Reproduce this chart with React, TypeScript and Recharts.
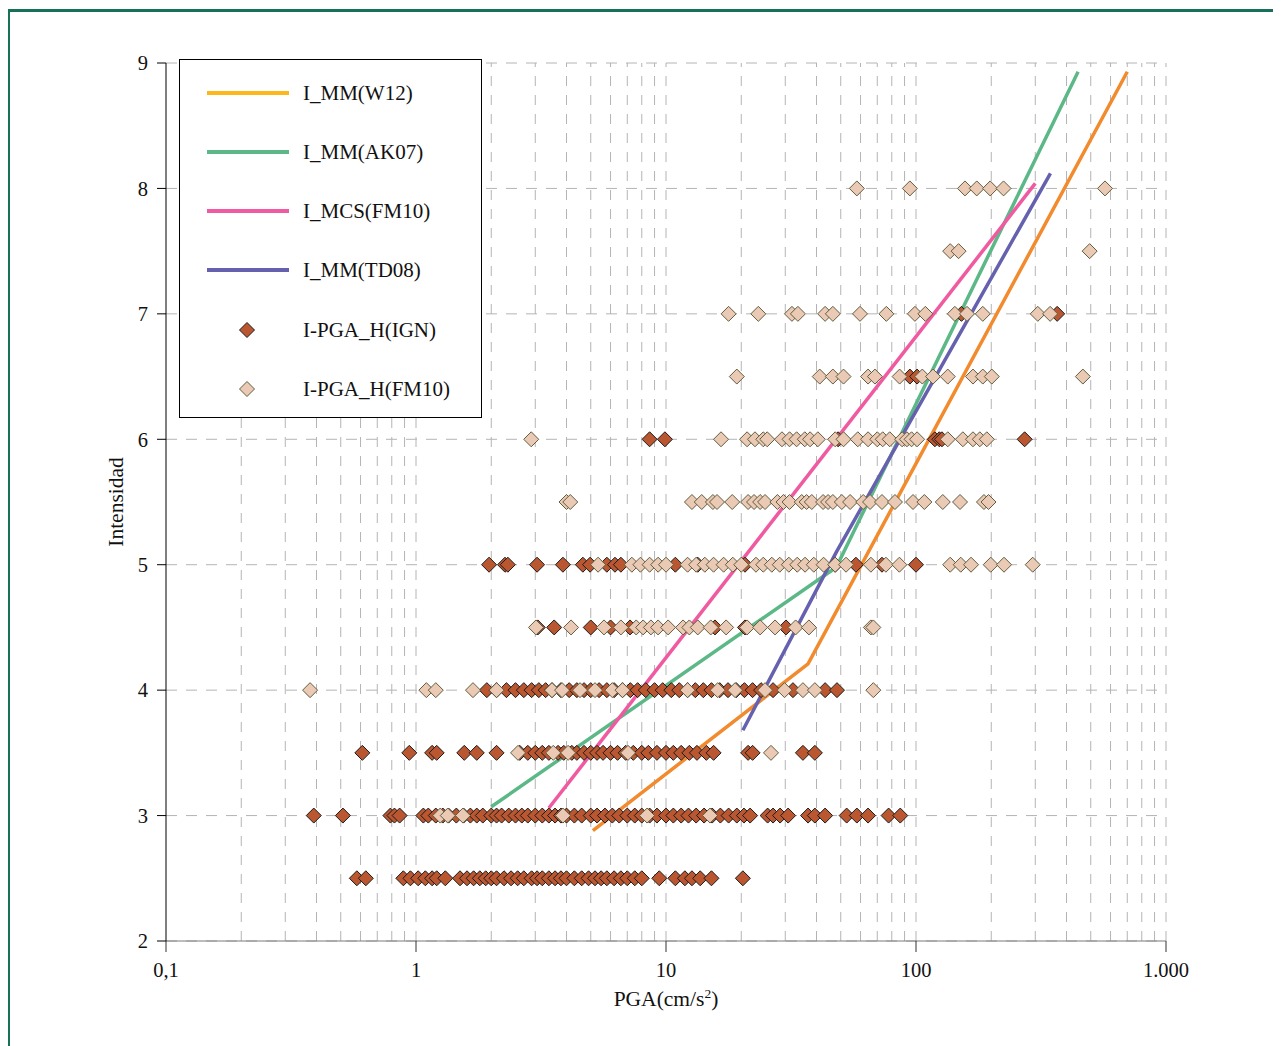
import React from "react";
import {
  ComposedChart,
  Line,
  Scatter,
  XAxis,
  YAxis,
  CartesianGrid,
  ReferenceLine,
} from "recharts";

if (typeof document !== "undefined") document.body.style.overflow = "hidden";

// axis ticks
const X_TICKS = [0.1, 1, 10, 100, 1000];
const X_TICK_LABELS: Record<number, string> = { 0.1: "0,1", 1: "1", 10: "10", 100: "100", 1000: "1.000" };
const X_GRID = [
  0.2, 0.3, 0.4, 0.5, 0.6, 0.7, 0.8, 0.9, 1, 2, 3, 4, 5, 6, 7, 8, 9, 10, 20, 30, 40, 50, 60, 70, 80, 90,
  100, 200, 300, 400, 500, 600, 700, 800, 900, 1000,
];
const Y_TICKS = [2, 3, 4, 5, 6, 7, 8, 9];

// relations (PGA, intensity)
const W12_PGA = [5.1, 37, 700];
const W12_I = [2.88, 4.21, 8.93];
const AK07_PGA = [2.0, 48, 445];
const AK07_I = [3.07, 4.98, 8.93];
const FM10_PGA = [3.4, 300];
const FM10_I = [3.06, 8.04];
const TD08_PGA = [20.3, 48, 345];
const TD08_I = [3.68, 5.1, 8.12];

// I-PGA_H(IGN) observations, PGA values per intensity level
const ign25 = [0.58, 0.63, 0.89, 0.95, 1.02, 1.09, 1.16, 1.21, 1.31, 1.5, 1.6, 1.7, 1.8, 1.9, 2.0, 2.1, 2.25, 2.4, 2.55, 2.7, 2.9, 3.05, 3.2, 3.4, 3.6, 3.8, 4.0, 4.3, 4.6, 4.9, 5.2, 5.5, 5.8, 6.2, 6.6, 7.0, 7.5, 8.0, 9.4, 10.9, 11.9, 12.7, 13.7, 15.2, 20.3];
const ign30 = [0.39, 0.51, 0.79, 0.82, 0.86, 1.07, 1.12, 1.2, 1.28, 1.35, 1.45, 1.55, 1.65, 1.75, 1.85, 2.0, 2.1, 2.2, 2.35, 2.5, 2.65, 2.8, 3.0, 3.2, 3.4, 3.6, 3.8, 4.0, 4.3, 4.6, 5.0, 5.3, 5.7, 6.1, 6.5, 7.0, 7.5, 8.0, 8.6, 9.2, 10, 10.7, 11.5, 12.3, 13.2, 14.2, 15.3, 16.5, 17.8, 19.2, 20.5, 21.7, 25.5, 26.8, 28.6, 30.8, 37, 39.4, 43.3, 52.8, 58, 64.3, 77.7, 86.5];
const ign35 = [0.61, 0.94, 1.16, 1.21, 1.56, 1.75, 2.1, 2.6, 2.8, 3.0, 3.2, 3.4, 3.7, 3.9, 4.2, 4.4, 4.7, 5.0, 5.3, 5.6, 6.0, 6.4, 6.9, 7.4, 8.0, 8.5, 9.2, 10, 10.7, 11.5, 12.4, 13.3, 14.5, 15.5, 21.3, 22.2, 35.3, 39.4];
const ign40 = [1.92, 2.1, 2.3, 2.5, 2.7, 2.9, 3.1, 3.3, 3.5, 3.8, 4.1, 4.4, 4.7, 5.0, 5.4, 5.8, 6.2, 6.7, 7.2, 7.7, 8.3, 9.0, 9.7, 10.5, 11.3, 12.2, 13.1, 14.1, 15.2, 16.4, 17.7, 19.1, 20.6, 22.2, 24, 26.8, 32.2, 43.3, 48.3];
const ign45 = [3.07, 3.57, 5.0, 6.0, 7.18, 15.7, 20.7, 30.2];
const ign50 = [1.96, 2.27, 2.33, 3.05, 3.87, 4.65, 4.97, 5.8, 6.25, 6.6, 10.9, 13.4, 20.7, 47.5, 57.5, 73.1, 100];
const ign60 = [8.6, 9.9, 48.8, 119, 124, 127, 272];
const ign65 = [94.5, 101];
const ign70 = [152, 367];

// I-PGA_H(FM10) observations
const fm30 = [1.25, 1.34, 1.54, 3.87, 8.4, 15.0];
const fm35 = [2.56, 3.54, 4.06, 7.05, 26.3];
const fm40 = [0.377, 1.1, 1.2, 1.69, 2.1, 3.5, 3.84, 4.53, 5.2, 6.1, 6.7, 12.2, 16.1, 18.9, 24.9, 29.8, 35.3, 39.4, 67.5];
const fm45 = [3.02, 4.17, 5.65, 6.6, 7.6, 8.1, 8.7, 9.3, 10.2, 11.7, 12.4, 13.4, 15.1, 17.4, 21.1, 23.8, 27.3, 33.0, 37.3, 66, 67.5];
const fm50 = [5.35, 7.3, 7.9, 8.6, 9.3, 10, 12.2, 13.2, 14.3, 15.5, 17, 18.5, 20, 22.9, 24.5, 26.5, 28.5, 31, 33.5, 36, 39, 42.7, 47.5, 52.5, 66, 75.8, 85.8, 137, 151, 166, 199, 225, 293];
const fm55 = [4.0, 4.14, 12.7, 13.9, 15.4, 16.0, 18.4, 21.3, 22.5, 23.8, 24.9, 27.9, 29.5, 31.2, 34.9, 36.5, 38.3, 42.5, 44.5, 46.5, 50.5, 54.5, 61.5, 65.5, 73.1, 82.4, 97.3, 108, 128, 150, 187, 195];
const fm60 = [2.89, 16.6, 21.1, 22.7, 24.5, 25.4, 29.1, 31.2, 33.3, 35.9, 37.7, 40.5, 47.5, 51.3, 58.5, 64.3, 70, 73.6, 78.5, 88, 92, 96, 101, 134, 154, 169, 180, 192];
const fm65 = [19.2, 41.2, 46.5, 51.3, 64.3, 68.5, 86, 106, 117, 134, 169, 185, 201, 465];
const fm70 = [17.8, 23.4, 31.9, 33.7, 43.3, 46.5, 59.7, 76.1, 99, 109, 143, 160, 185, 307, 344];
const fm75 = [137, 148, 495];
const fm80 = [58, 94.5, 157, 175, 198, 224, 570];

const IGN_ROWS: [number, number[]][] = [
  [2.5, ign25], [3, ign30], [3.5, ign35], [4, ign40], [4.5, ign45], [5, ign50], [6, ign60], [6.5, ign65], [7, ign70],
];
const FM_ROWS: [number, number[]][] = [
  [3, fm30], [3.5, fm35], [4, fm40], [4.5, fm45], [5, fm50], [5.5, fm55], [6, fm60], [6.5, fm65], [7, fm70], [7.5, fm75], [8, fm80],
];

const toPoints = (xs: number[], ys: number[]) => xs.map((x, i) => ({ x, y: ys[i] }));
const rowsToPoints = (rows: [number, number[]][]) =>
  rows.flatMap(([y, xs]) => xs.map((x) => ({ x, y })));

const ignData = rowsToPoints(IGN_ROWS);
const fmData = rowsToPoints(FM_ROWS);

const C_W12 = "#f28a2e";
const C_W12_LEG = "#fdb71c";
const C_AK07 = "#5cb887";
const C_MCS = "#ef5aa0";
const C_TD08 = "#6661ae";
const IGN_FILL = "#ba5731";
const IGN_STROKE = "#1b1b1b";
const FM_FILL = "#eacab4";
const FM_STROKE = "#625c40";

const FONT = "'Liberation Serif', 'Times New Roman', serif";
const GRID = "#b4b4b4";

const diamond = (fill: string, stroke: string) => (props: any) => {
  const { cx, cy } = props;
  if (cx == null || cy == null) return <g />;
  const r = 7.5;
  return (
    <path
      d={`M${cx},${cy - r}L${cx + r},${cy}L${cx},${cy + r}L${cx - r},${cy}Z`}
      fill={fill}
      stroke={stroke}
      strokeWidth={1}
    />
  );
};

const LEGEND = [
  { label: "I_MM(W12)", color: C_W12_LEG, kind: "line" },
  { label: "I_MM(AK07)", color: C_AK07, kind: "line" },
  { label: "I_MCS(FM10)", color: C_MCS, kind: "line" },
  { label: "I_MM(TD08)", color: C_TD08, kind: "line" },
  { label: "I-PGA_H(IGN)", color: IGN_FILL, stroke: IGN_STROKE, kind: "dot" },
  { label: "I-PGA_H(FM10)", color: FM_FILL, stroke: FM_STROKE, kind: "dot" },
];

function ChartLegend() {
  return (
    <div
      style={{
        position: "absolute",
        left: 169,
        top: 47,
        width: 301,
        height: 357,
        border: "1px solid #000",
        background: "#fff",
      }}
    >
      <svg width={301} height={357} style={{ display: "block" }}>
        {LEGEND.map((e, i) => {
          const y = i < 4 ? 33 + i * 59 : 34 + i * 59;
          return (
            <g key={e.label}>
              {e.kind === "line" ? (
                <line x1={27} x2={109} y1={y} y2={y} stroke={e.color} strokeWidth={4} />
              ) : (
                <path
                  d={`M67,${y - 7.5}L74.5,${y}L67,${y + 7.5}L59.5,${y}Z`}
                  fill={e.color}
                  stroke={e.stroke}
                  strokeWidth={1}
                />
              )}
              <text x={123} y={y + 7} fontSize={21} fontFamily={FONT} fill="#111">
                {e.label}
              </text>
            </g>
          );
        })}
      </svg>
    </div>
  );
}

export default function App() {
  return (
    <div
      style={{
        position: "relative",
        left: -1,
        top: 1,
        width: 1290,
        height: 1060,
        border: "3px solid #17705a",
        fontFamily: FONT,
        background: "#fff",
      }}
    >
      <ComposedChart
        width={1200}
        height={1020}
        margin={{ top: 51, right: 44, bottom: 51, left: 96 }}
      >
        <CartesianGrid vertical={false} stroke={GRID} strokeDasharray="11 9" />
        {X_GRID.map((v) => (
          <ReferenceLine key={v} x={v} stroke={GRID} strokeDasharray="10 9" />
        ))}
        <XAxis
          dataKey="x"
          type="number"
          scale="log"
          domain={[0.1, 1000]}
          ticks={X_TICKS}
          tickFormatter={(v: number) => X_TICK_LABELS[v] ?? String(v)}
          axisLine={{ stroke: "#7a7a7a" }}
          tickLine={{ stroke: "#333" }}
          tickSize={11}
          tickMargin={10}
          height={40}
          tick={{ fill: "#111", fontSize: 20.5, fontFamily: FONT }}
          label={(p: any) => {
            const vb = p.viewBox;
            return (
              <text
                x={vb.x + vb.width / 2}
                y={vb.y + 65}
                textAnchor="middle"
                fontSize={21.5}
                fontFamily={FONT}
                fill="#111"
              >
                PGA(cm/s
                <tspan dy={-8} fontSize={13.5}>2</tspan>
                <tspan dy={8}>)</tspan>
              </text>
            );
          }}
        />
        <YAxis
          dataKey="y"
          type="number"
          domain={[2, 9]}
          ticks={Y_TICKS}
          width={60}
          axisLine={{ stroke: "#000" }}
          tickLine={{ stroke: "#000" }}
          tickSize={9}
          tickMargin={9}
          tick={{ fill: "#111", fontSize: 20.5, fontFamily: FONT }}
          label={(p: any) => {
            const vb = p.viewBox;
            const x = vb.x + 17;
            const y = vb.y + vb.height / 2;
            return (
              <text
                x={x}
                y={y}
                transform={`rotate(-90 ${x} ${y})`}
                textAnchor="middle"
                fontSize={21.5}
                fontFamily={FONT}
                fill="#111"
              >
                Intensidad
              </text>
            );
          }}
        />
        <Line data={toPoints(W12_PGA, W12_I)} dataKey="y" stroke={C_W12} strokeWidth={3.5} dot={false} isAnimationActive={false} />
        <Line data={toPoints(AK07_PGA, AK07_I)} dataKey="y" stroke={C_AK07} strokeWidth={3.5} dot={false} isAnimationActive={false} />
        <Line data={toPoints(FM10_PGA, FM10_I)} dataKey="y" stroke={C_MCS} strokeWidth={3.5} dot={false} isAnimationActive={false} />
        <Line data={toPoints(TD08_PGA, TD08_I)} dataKey="y" stroke={C_TD08} strokeWidth={3.5} dot={false} isAnimationActive={false} />
        <Scatter data={ignData} shape={diamond(IGN_FILL, IGN_STROKE)} isAnimationActive={false} />
        <Scatter data={fmData} shape={diamond(FM_FILL, FM_STROKE)} isAnimationActive={false} />
      </ComposedChart>
      <ChartLegend />
    </div>
  );
}
